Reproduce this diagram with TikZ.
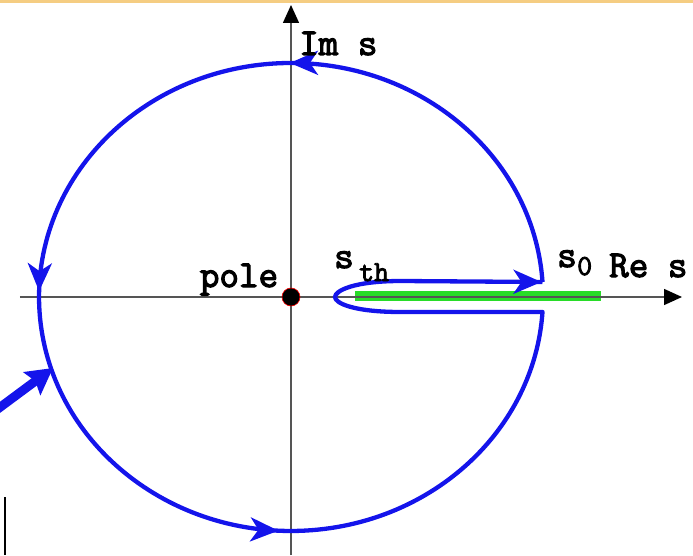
\documentclass[tikz,border=0pt]{standalone}
\usepackage{fontspec}
\setmonofont{Latin Modern Mono}[BoldFont={Latin Modern Mono}, BoldFeatures={FakeBold=3}]
\usetikzlibrary{arrows.meta,decorations.markings}
\definecolor{cblue}{RGB}{20,20,235}
\definecolor{cgreen}{RGB}{40,220,40}
\definecolor{caxis}{RGB}{85,85,85}
\definecolor{corange}{RGB}{245,205,130}
\begin{document}
\begin{tikzpicture}[x=1pt,y=1pt,
  lbl/.style={font=\fontsize{38}{38}\selectfont\ttfamily\bfseries, inner sep=0pt},
  sublbl/.style={font=\fontsize{29}{29}\selectfont\ttfamily\bfseries, inner sep=0pt},
  axisline/.style={draw=caxis, line width=1.5pt},
  flowhead/.style={},
  contour/.style={draw=cblue, line width=4.3pt, line join=round,
    decoration={markings,
      mark=at position 368pt with {\arrow[cblue]{Stealth[length=28pt,width=24pt,inset=8pt]}},
      mark=at position 743pt with {\arrow[cblue]{Stealth[length=28pt,width=24pt,inset=8pt]}},
      mark=at position 1118pt with {\arrow[cblue]{Stealth[length=28pt,width=24pt,inset=8pt]}},
      mark=at position -1pt with {\arrow[cblue]{Stealth[length=28pt,width=24pt,inset=8pt]}}},
    postaction={decorate}}
]
\useasboundingbox (-291,-258) rectangle (402,297);
% top orange line
\fill[corange] (-291,294) rectangle (402,297);
% green cut
\draw[cgreen, line width=10pt] (64,1) -- (310,1);
% axes
\coordinate (xs) at (-271,0);
\coordinate (xe) at (391,0);
\coordinate (ys) at (0,-258);
\coordinate (ye) at (0,292);
\draw[axisline, -{Triangle[length=18pt,width=16pt,color=black,fill=black]}] (xs) -- (xe);
\draw[axisline, -{Triangle[length=18pt,width=16pt,color=black,fill=black]}] (ys) -- (ye);
% contour
\coordinate (c1) at (251.5,15);
\draw[contour] (c1) arc[start angle=3.67, end angle=356.33, x radius=252, y radius=234]
  -- (110,-15) .. controls (62,-15) and (44,-6) .. (44,0)
  .. controls (44,6) and (62,16) .. (110,16) -- (c1);
% pole
\node[circle, fill=black, draw=red, line width=0.6pt, minimum size=18pt, inner sep=0pt] (pole) at (0,0) {};
% labels
\node[lbl, anchor=base west] (ims) at (8,242) {Im s};
\node[lbl, anchor=base] (polelbl) at (-52,10) {pole};
\node[lbl, anchor=base west] (sth) at (43,29) {s};
\node[sublbl, anchor=base west] (sthsub) at (68,16) {th};
\node[lbl, anchor=base west] (s0) at (266,30) {s};
\node[sublbl, anchor=base west] (s0sub) at (286,22) {0};
\node[lbl, anchor=base west] (res) at (318,20) {Re s};
% big pointer arrow
\coordinate (pa) at (-300,-117);
\coordinate (pb) at (-238,-71);
\draw[cblue, line width=9pt, -{Stealth[length=26pt,width=28pt,inset=4pt]}] (pa) -- (pb);
% small black bar
\coordinate (ba) at (-286,-200);
\coordinate (bb) at (-286,-258);
\draw[black, line width=2pt] (ba) -- (bb);
\end{tikzpicture}
\end{document}
